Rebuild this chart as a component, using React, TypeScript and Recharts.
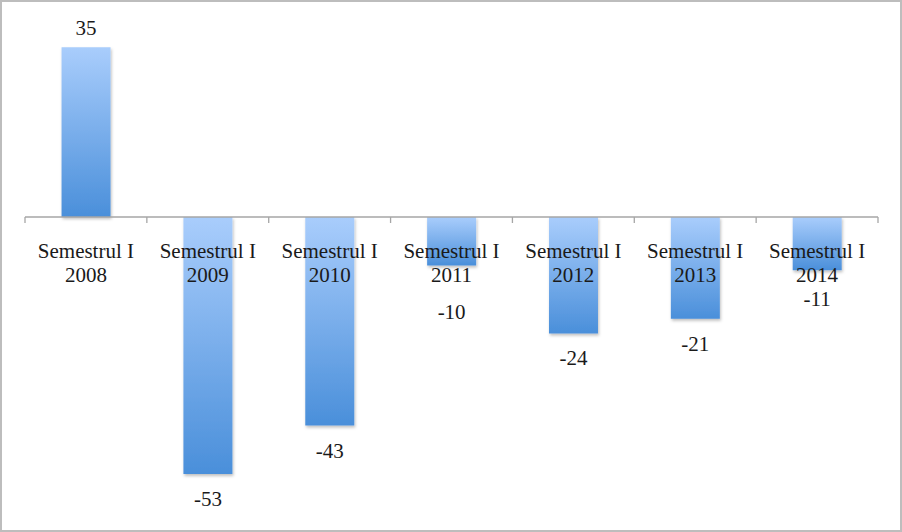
import React from "react";
import { BarChart, Bar, XAxis, YAxis, ReferenceLine, LabelList } from "recharts";

const categories = ["Semestrul I 2008", "Semestrul I 2009", "Semestrul I 2010", "Semestrul I 2011", "Semestrul I 2012", "Semestrul I 2013", "Semestrul I 2014"];
const tickLine1 = ["Semestrul I", "Semestrul I", "Semestrul I", "Semestrul I", "Semestrul I", "Semestrul I", "Semestrul I"];
const tickLine2 = ["2008", "2009", "2010", "2011", "2012", "2013", "2014"];
const values = [35, -53, -43, -10, -24, -21, -11];

const data = categories.map((c, i) => ({ name: c, value: values[i] }));

const FONT = "'Liberation Serif', 'Times New Roman', serif";
const FS = 21;

const AxisShape = (props: any) => {
  const { x1, y1, x2 } = props;
  const n = categories.length;
  const w = (x2 - x1) / n;
  const els: any[] = [];
  els.push(<line key="axis" x1={x1} y1={y1} x2={x2} y2={y1} stroke="#a6a6a6" strokeWidth={1.3} />);
  for (let i = 0; i <= n; i++) {
    const tx = x1 + i * w;
    els.push(<line key={"t" + i} x1={tx} y1={y1} x2={tx} y2={y1 + 6} stroke="#a6a6a6" strokeWidth={1.3} />);
  }
  for (let i = 0; i < n; i++) {
    const cx = x1 + (i + 0.5) * w;
    els.push(
      <text key={"a" + i} x={cx} y={y1 + 34} textAnchor="middle" dominantBaseline="central" fontFamily={FONT} fontSize={FS} fill="#1a1a1a">
        {tickLine1[i]}
      </text>
    );
    els.push(
      <text key={"b" + i} x={cx} y={y1 + 58} textAnchor="middle" dominantBaseline="central" fontFamily={FONT} fontSize={FS} fill="#1a1a1a">
        {tickLine2[i]}
      </text>
    );
  }
  return <g>{els}</g>;
};

const ValueLabel = (props: any) => {
  const { x, y, width, height, value, index } = props;
  const top = Math.min(y, y + height);
  const bottom = Math.max(y, y + height);
  const cx = x + width / 2;
  let cy: number;
  if (value >= 0) cy = top - 19;
  else if (index === 3) cy = bottom + 46;
  else if (index === 6) cy = bottom + 29;
  else cy = bottom + 25;
  return (
    <text x={cx} y={cy} textAnchor="middle" dominantBaseline="central" fontFamily={FONT} fontSize={FS} fill="#1a1a1a">
      {value}
    </text>
  );
};

export default function App() {
  return (
    <div style={{ position: "absolute", left: 0, top: 0, width: 902, height: 532, background: "#fff" }}>
      <BarChart width={902} height={532} data={data} margin={{ top: 23, right: 24, bottom: 24, left: 25 }} barCategoryGap="30%">
        <defs>
          <linearGradient id="barGrad" x1="0" y1="0" x2="0" y2="1">
            <stop offset="0%" stopColor="#a9cdfc" />
            <stop offset="100%" stopColor="#4a8fda" />
          </linearGradient>
          <filter id="shadow" x="-20%" y="-20%" width="140%" height="140%">
            <feDropShadow dx="1" dy="2" stdDeviation="1.5" floodColor="#000" floodOpacity="0.25" />
          </filter>
        </defs>
        <XAxis dataKey="name" hide />
        <YAxis hide domain={[-60, 40]} />
        <Bar dataKey="value" fill="url(#barGrad)" isAnimationActive={false} style={{ filter: "url(#shadow)" }}>
          <LabelList dataKey="value" content={<ValueLabel />} />
        </Bar>
        <ReferenceLine y={0} shape={<AxisShape />} />
      </BarChart>
      <div style={{ position: "absolute", left: 0, top: 0, width: 902, height: 532, boxSizing: "border-box", border: "2px solid #bdbdbd", pointerEvents: "none" }} />
    </div>
  );
}
